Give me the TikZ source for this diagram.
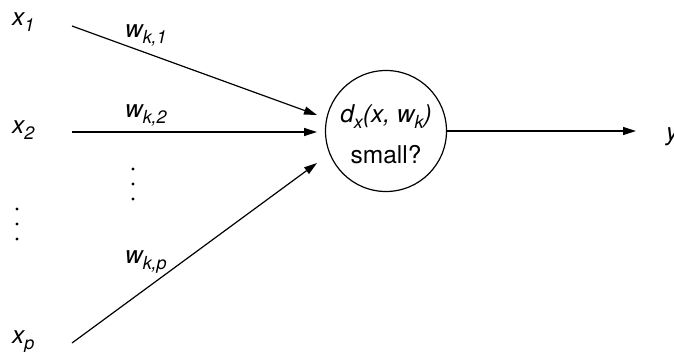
\documentclass[tikz,border=0pt]{standalone}
\usepackage{fontspec}
\setmainfont{TeX Gyre Heros}
\usetikzlibrary{arrows.meta}
\newcommand\vsub[1]{\raisebox{-6pt}{\fontsize{18}{18}\selectfont\itshape #1}}
\begin{document}
\begin{tikzpicture}[x=1pt,y=-1pt,
  lbl/.style={anchor=base west,inner sep=0pt,font=\fontsize{24.5}{28}\selectfont\itshape},
  ctext/.style={anchor=base,inner sep=0pt,font=\fontsize{24.5}{28}\selectfont},
  arr/.style={line width=1.2pt,-{Triangle[length=13pt,width=8pt]}},
  dotpt/.style={fill=black,draw=none}]
\useasboundingbox (0,0) rectangle (674,351);
% input labels
\node[lbl] (x1) at (12,25) {x\vsub{1}};
\node[lbl] (x2) at (12,133) {x\vsub{2}};
\node[lbl] (xp) at (12,343) {x\vsub{p}};
% weight labels
\node[lbl] (w1) at (125,37) {w\vsub{k,1}};
\node[lbl] (w2) at (125,117) {w\vsub{k,2}};
\node[lbl] (wp) at (125,263) {w\vsub{k,p}};
% neuron
\node[draw,circle,line width=1.2pt,minimum size=121pt,inner sep=0pt] (c) at (386,131) {};
\node[ctext] (t1) at (386,122) {\itshape d\vsub{x}(x, w\vsub{k})};
\node[ctext] (t2) at (386,163) {small?};
% output label
\node[lbl] (y) at (666,140) {y};
% connector ends
\coordinate (s1) at (72,26);
\coordinate (s2) at (72,132);
\coordinate (sp) at (72,343);
\coordinate (e1) at (317,115);
\coordinate (e2) at (317,132);
\coordinate (ep) at (317,163);
\coordinate (o) at (636,131);
\draw[arr] (s1) -- (e1);
\draw[arr] (s2) -- (e2);
\draw[arr] (sp) -- (ep);
\draw[arr] (c.east) -- (o);
% dots
\foreach \yy in {209,224,239} \fill[dotpt] (17,\yy) circle (1.6pt);
\foreach \yy in {169,184,199} \fill[dotpt] (133,\yy) circle (1.6pt);
\end{tikzpicture}
\end{document}
